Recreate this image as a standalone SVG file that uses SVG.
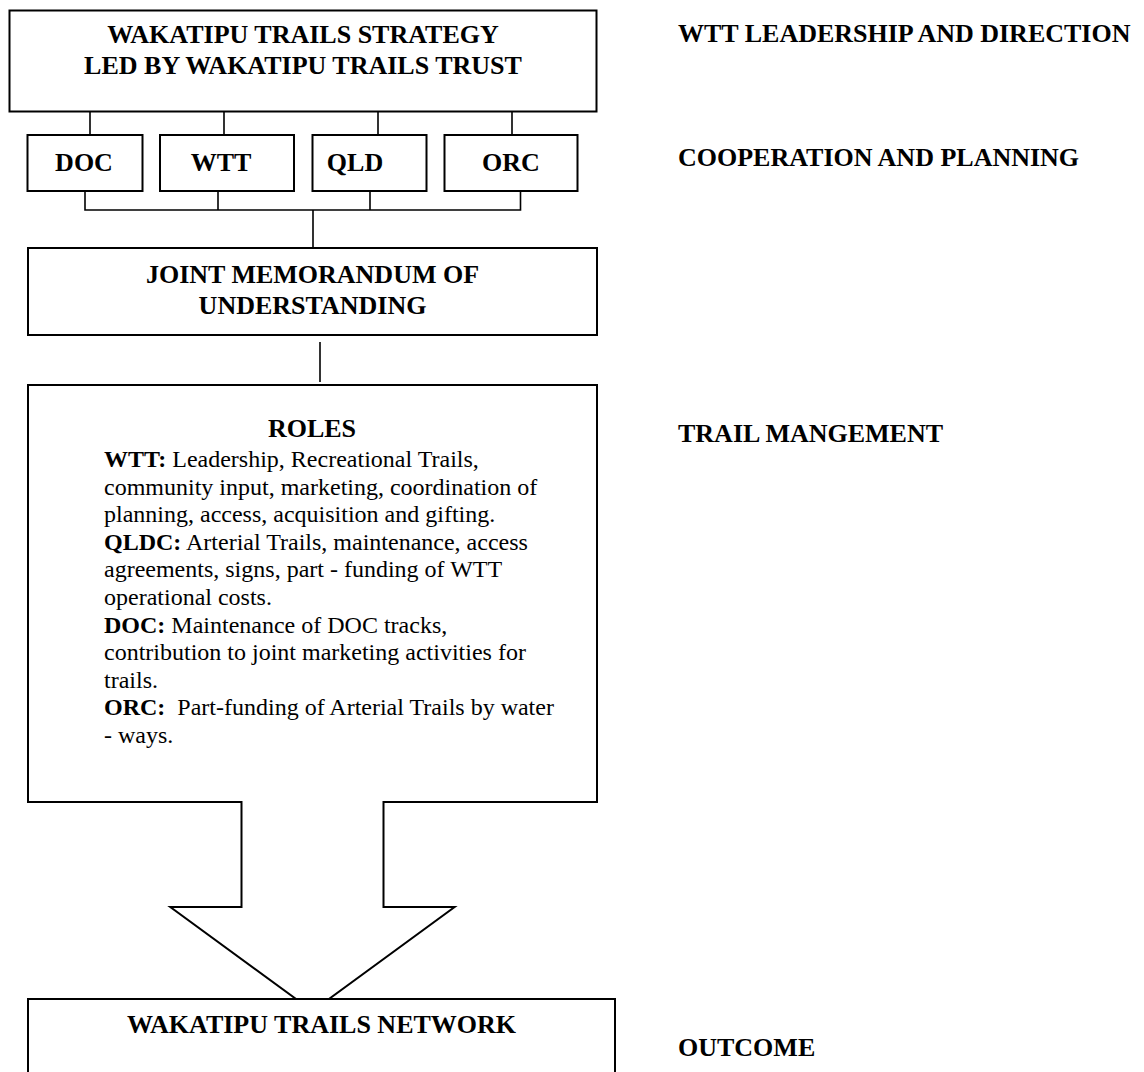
<svg xmlns="http://www.w3.org/2000/svg" width="1144" height="1072" viewBox="0 0 1144 1072">
<style>
.box{fill:#fff;stroke:#000;stroke-width:2}
.con{fill:none;stroke:#000;stroke-width:1.6}
.h{font-family:"Liberation Serif","Times New Roman",serif;font-weight:bold;font-size:26px;fill:#000}
.b{font-family:"Liberation Serif","Times New Roman",serif;font-size:24px;fill:#000}
.b tspan.k{font-weight:bold}
</style>
<rect width="1144" height="1072" fill="#fff"/>
<g id="connectors">
<path class="con" d="M90,112V135M224,112V135M378,112V135M512,112V135"/>
<path class="con" d="M85,191V210H520.5V191M218,191V210M370,191V210M313,210V248"/>
<path class="con" d="M320,342V382"/>
</g>
<g id="strategy">
<rect class="box" x="9.5" y="10.5" width="587" height="101"/>
<text class="h" x="303" y="43" text-anchor="middle">WAKATIPU TRAILS STRATEGY</text>
<text class="h" x="303" y="74" text-anchor="middle">LED BY WAKATIPU TRAILS TRUST</text>
</g>
<g id="doc">
<rect class="box" x="27.5" y="135" width="115" height="56"/>
<text class="h" x="84" y="171" text-anchor="middle">DOC</text>
</g>
<g id="wtt">
<rect class="box" x="160" y="135" width="134" height="56"/>
<text class="h" x="221" y="171" text-anchor="middle">WTT</text>
</g>
<g id="qld">
<rect class="box" x="312.5" y="135" width="114" height="56"/>
<text class="h" x="355" y="171" text-anchor="middle">QLD</text>
</g>
<g id="orc">
<rect class="box" x="444.5" y="135" width="133" height="56"/>
<text class="h" x="511" y="171" text-anchor="middle">ORC</text>
</g>
<g id="mou">
<rect class="box" x="28" y="248" width="569" height="87"/>
<text class="h" x="312.5" y="283" text-anchor="middle">JOINT MEMORANDUM OF</text>
<text class="h" x="312.5" y="314" text-anchor="middle">UNDERSTANDING</text>
</g>
<g id="roles">
<path class="box" d="M28,385H597V802H383.5V907H454.6L312.5,1011L170.3,907H241.5V802H28Z"/>
<text class="h" x="312" y="437" text-anchor="middle">ROLES</text>
<text class="b" x="104" y="467"><tspan class="k">WTT:</tspan> Leadership, Recreational Trails,</text>
<text class="b" x="104" y="494.6">community input, marketing, coordination of</text>
<text class="b" x="104" y="522.2">planning, access, acquisition and gifting.</text>
<text class="b" x="104" y="549.8"><tspan class="k">QLDC:</tspan> Arterial Trails, maintenance, access</text>
<text class="b" x="104" y="577.4">agreements, signs, part - funding of WTT</text>
<text class="b" x="104" y="605">operational costs.</text>
<text class="b" x="104" y="632.6"><tspan class="k">DOC:</tspan> Maintenance of DOC tracks,</text>
<text class="b" x="104" y="660.2">contribution to joint marketing activities for</text>
<text class="b" x="104" y="687.8">trails.</text>
<text class="b" x="104" y="715.4" xml:space="preserve"><tspan class="k">ORC:</tspan>  Part-funding of Arterial Trails by water</text>
<text class="b" x="104" y="743">- ways.</text>
</g>
<g id="network">
<rect class="box" x="28" y="999" width="587" height="90"/>
<text class="h" x="321.5" y="1033" text-anchor="middle">WAKATIPU TRAILS NETWORK</text>
</g>
<g id="labels">
<text class="h" x="678" y="42">WTT LEADERSHIP AND DIRECTION</text>
<text class="h" x="678" y="166">COOPERATION AND PLANNING</text>
<text class="h" x="678" y="442">TRAIL MANGEMENT</text>
<text class="h" x="678" y="1056">OUTCOME</text>
</g>
</svg>
